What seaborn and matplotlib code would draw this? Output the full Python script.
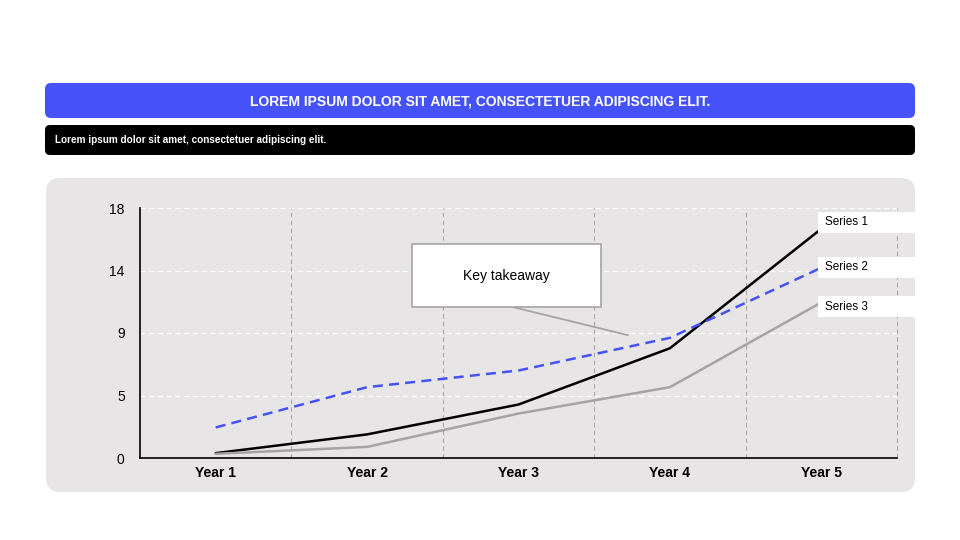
import numpy as np
import pandas as pd
import matplotlib
matplotlib.use("Agg")
import matplotlib.pyplot as plt
from matplotlib.patches import FancyBboxPatch, Rectangle
import seaborn as sns

years = ["Year 1", "Year 2", "Year 3", "Year 4", "Year 5"]
series_names = ["Series 1", "Series 2", "Series 3"]
series_1 = [0.35, 1.7, 3.85, 7.9, 16.5]
series_2 = [2.2, 5.1, 6.3, 8.65, 13.7]
series_3 = [0.3, 0.8, 3.2, 5.1, 11.2]
ytick_vals = [0, 4.5, 9, 13.5, 18]
ytick_labels = ["0", "5", "9", "14", "18"]

title = "LOREM IPSUM DOLOR SIT AMET, CONSECTETUER ADIPISCING ELIT."
subtitle = "Lorem ipsum dolor sit amet, consectetuer adipiscing elit."
callout = "Key takeaway"

sns.set_theme(style="white")
plt.rcParams['font.family'] = ['Liberation Sans', 'DejaVu Sans']
plt.rcParams['text.color'] = 'black'
plt.rcParams['xtick.color'] = 'black'
plt.rcParams['ytick.color'] = 'black'

df = pd.DataFrame({
    "year": years * 3,
    "value": series_1 + series_2 + series_3,
    "series": sum([[s] * len(years) for s in series_names], []),
})
df["x"] = df["year"].map({y: i for i, y in enumerate(years)})

W, H = 960, 540
fig = plt.figure(figsize=(9.6, 5.4), dpi=100)
fig.patch.set_facecolor("white")


def fx(px):
    return px / W


def fy(py):
    return 1 - py / H


def rbox(x0, y0, x1, y1, color, r=8):
    p = FancyBboxPatch((fx(x0), fy(y1)), fx(x1 - x0), fy(y0) - fy(y1),
                       boxstyle=f"round,pad=0,rounding_size={r / W}",
                       transform=fig.transFigure, facecolor=color,
                       edgecolor="none", zorder=-2,
                       mutation_aspect=W / H)
    fig.patches.append(p)


# header bars and the grey panel
rbox(45, 83, 915, 118, "#4552F8", r=6)
rbox(45, 125, 915, 155, "#000000", r=5)
rbox(46, 178, 915, 492, "#E7E5E6", r=14)
fig.text(fx(480), fy(101), title, color="white", fontsize=10,
         fontweight="bold", ha="center", va="center")
fig.text(fx(55), fy(140), subtitle, color="white", fontsize=7.2,
         fontweight="bold", ha="left", va="center")

ax = fig.add_axes([fx(140), fy(458), fx(897 - 140), fy(208) - fy(458)])
ax.set_facecolor("none")
ax.set_zorder(1)

palette = {"Series 1": "#000000", "Series 2": "#4552F8", "Series 3": "#A5A3A4"}
sns.lineplot(data=df, x="x", y="value", hue="series", style="series",
             palette=palette, dashes={"Series 1": "", "Series 2": (4, 2.5), "Series 3": ""},
             linewidth=1.8, legend=False, ax=ax, zorder=3)
for line in ax.lines:
    line.set_linewidth(1.8)

ax.set_xlim(-0.5, 4.5)
ax.set_ylim(0, 18)
ax.set_xticks(range(len(years)))
ax.set_xticklabels(years, fontweight="bold", fontsize=10)
ax.set_yticks(ytick_vals)
ax.set_yticklabels(ytick_labels, fontsize=10)
ax.tick_params(axis="x", length=0, pad=6)
ax.tick_params(axis="y", length=0, pad=11)
ax.set_xlabel("")
ax.set_ylabel("")

for v in ytick_vals[1:]:
    ax.axhline(v, color="white", lw=0.9, ls=(0, (4, 3)), zorder=1)
for b in np.arange(0.5, 5, 1.0):
    ax.axvline(b, color="#A8A6A7", lw=0.8, ls=(0, (4, 3)), zorder=1, clip_on=False)

for s in ["top", "right"]:
    ax.spines[s].set_visible(False)
for s in ["left", "bottom"]:
    ax.spines[s].set_color("black")
    ax.spines[s].set_linewidth(1.2)

# callout
ax.annotate("", xy=(2.74, 8.8), xytext=(1.95, 10.9),
            arrowprops=dict(arrowstyle="-", color="#A5A3A4", lw=1.3), zorder=2)
fig.patches.append(Rectangle((fx(412), fy(307)), fx(601 - 412), fy(244) - fy(307),
                             transform=fig.transFigure, facecolor="white",
                             edgecolor="#A5A3A4", lw=1.2, zorder=5))
fig.text(fx(506), fy(276), callout, fontsize=10, ha="center", va="center", zorder=6)

# series labels at the line ends
label_tops = [212, 257, 296]
for name, top in zip(series_names, label_tops):
    fig.patches.append(Rectangle((fx(818), fy(top + 21)), fx(97), fy(top) - fy(top + 21),
                                 transform=fig.transFigure, facecolor="white",
                                 edgecolor="none", zorder=5))
    fig.text(fx(825), fy(top + 10.5), name, fontsize=8.5, ha="left", va="center", zorder=6)

fig.savefig("out.png", dpi=100)
